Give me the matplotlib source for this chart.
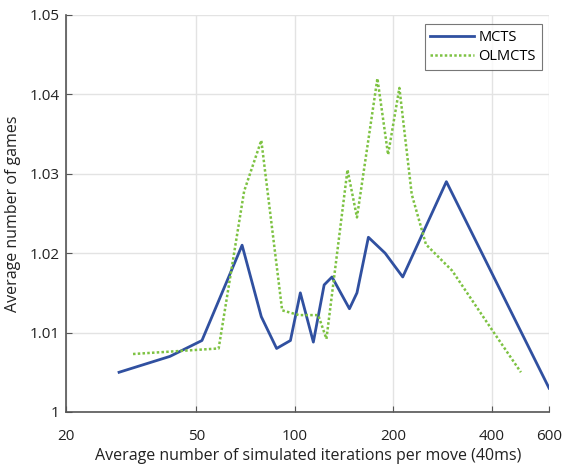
import numpy as np
import matplotlib
matplotlib.use('Agg')
import matplotlib.pyplot as plt
from matplotlib.ticker import FixedLocator, NullLocator, FixedFormatter

# MCTS (solid blue)
mcts_x = [29, 41.5, 52, 69, 79, 88, 97, 104, 114, 123, 130, 147, 155, 168, 189, 214, 291, 600]
mcts_y = [1.005, 1.007, 1.009, 1.021, 1.012, 1.008, 1.009, 1.015, 1.0088, 1.016, 1.017,
          1.013, 1.015, 1.022, 1.020, 1.017, 1.029, 1.003]

# OLMCTS (dotted green)
olmcts_x = [32, 58.5, 70, 79, 91.5, 103, 118, 125, 145, 155, 179, 193, 209, 228, 252,
            303, 402, 492]
olmcts_y = [1.0073, 1.008, 1.0278, 1.0342, 1.0128, 1.0122, 1.0122, 1.0092, 1.0305, 1.0245,
            1.042, 1.0324, 1.0408, 1.0274, 1.0211, 1.0178, 1.0103, 1.005]

xticks = [20, 50, 100, 200, 400, 600]
yticks = [1.0, 1.01, 1.02, 1.03, 1.04, 1.05]
ytick_labels = ['1', '1.01', '1.02', '1.03', '1.04', '1.05']

plt.rcParams['font.family'] = ['Open Sans', 'DejaVu Sans']

fig = plt.figure(figsize=(5.62, 4.65), dpi=100)
ax = fig.add_axes([0.118, 0.114, 0.859, 0.854])

ax.plot(mcts_x, mcts_y, color='#3050a0', lw=2.0, label='MCTS')
ax.plot(olmcts_x, olmcts_y, color='#7dc242', lw=1.8, ls=(0, (1, 0.9)), label='OLMCTS')

ax.set_xscale('log')
ax.set_xlim(20, 600)
ax.set_ylim(1.0, 1.05)
ax.xaxis.set_major_locator(FixedLocator(xticks))
ax.xaxis.set_major_formatter(FixedFormatter([str(t) for t in xticks]))
ax.xaxis.set_minor_locator(NullLocator())
ax.yaxis.set_major_locator(FixedLocator(yticks))
ax.yaxis.set_major_formatter(FixedFormatter(ytick_labels))

ax.grid(True, color='#e3e3e3', lw=1.0)
ax.set_axisbelow(True)
for s in ['top', 'right']:
    ax.spines[s].set_visible(False)
for s in ['left', 'bottom']:
    ax.spines[s].set_color('#555555')
    ax.spines[s].set_linewidth(1.2)
ax.tick_params(direction='in', length=4, colors='#555555', labelcolor='#222222',
               labelsize=11)
ax.tick_params(axis='x', pad=12)
ax.tick_params(axis='y', pad=5)

ax.set_xlabel('Average number of simulated iterations per move (40ms)', fontsize=11.5,
              color='#222222', labelpad=3)
ax.set_ylabel('Average number of games', fontsize=11.5, color='#222222', labelpad=6)

leg = ax.legend(loc='upper right', bbox_to_anchor=(1.0, 0.995), fontsize=10.5,
                frameon=True, fancybox=False, edgecolor='#555555',
                handlelength=3.0, borderpad=0.4, labelspacing=0.3, handletextpad=0.3)
leg.get_frame().set_linewidth(0.8)

fig.savefig('out.png', dpi=100)
